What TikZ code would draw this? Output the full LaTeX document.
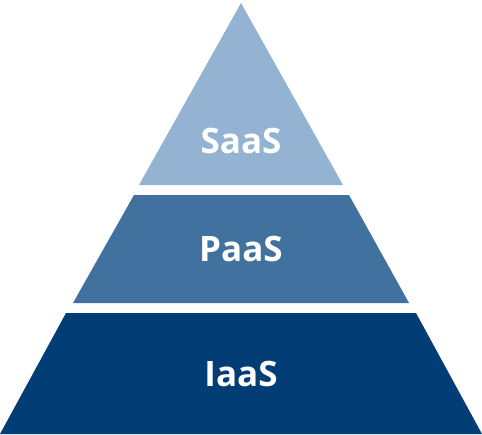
\documentclass[tikz,border=0pt]{standalone}
\usepackage{fontspec}
\setmainfont{Open Sans}
\usetikzlibrary{positioning}
\definecolor{saascol}{RGB}{148,179,210}
\definecolor{paascol}{RGB}{65,113,158}
\definecolor{iaascol}{RGB}{2,62,117}

\begin{document}
\begin{tikzpicture}[x=1pt, y=-1pt,
    tier/.style={draw=none},
    lbl/.style={text=white, font=\fontsize{35}{40}\selectfont\bfseries}]
        \useasboundingbox (0,0) rectangle (482,434);
        % tiers, top to bottom
        \fill[tier, saascol] (241,3) -- (343,185) -- (139,185) -- cycle;
        \fill[tier, paascol] (134,195) -- (349,195) -- (409,303) -- (73,303) -- cycle;
        \fill[tier, iaascol] (66,313) -- (416,313) -- (482,434) -- (0,434) -- cycle;
        % labels
        \node[lbl] (saas) at (241,141) {SaaS};
        \node[lbl] (paas) at (241,249) {PaaS};
        \node[lbl] (iaas) at (241,374) {IaaS};
      \end{tikzpicture}
\end{document}
